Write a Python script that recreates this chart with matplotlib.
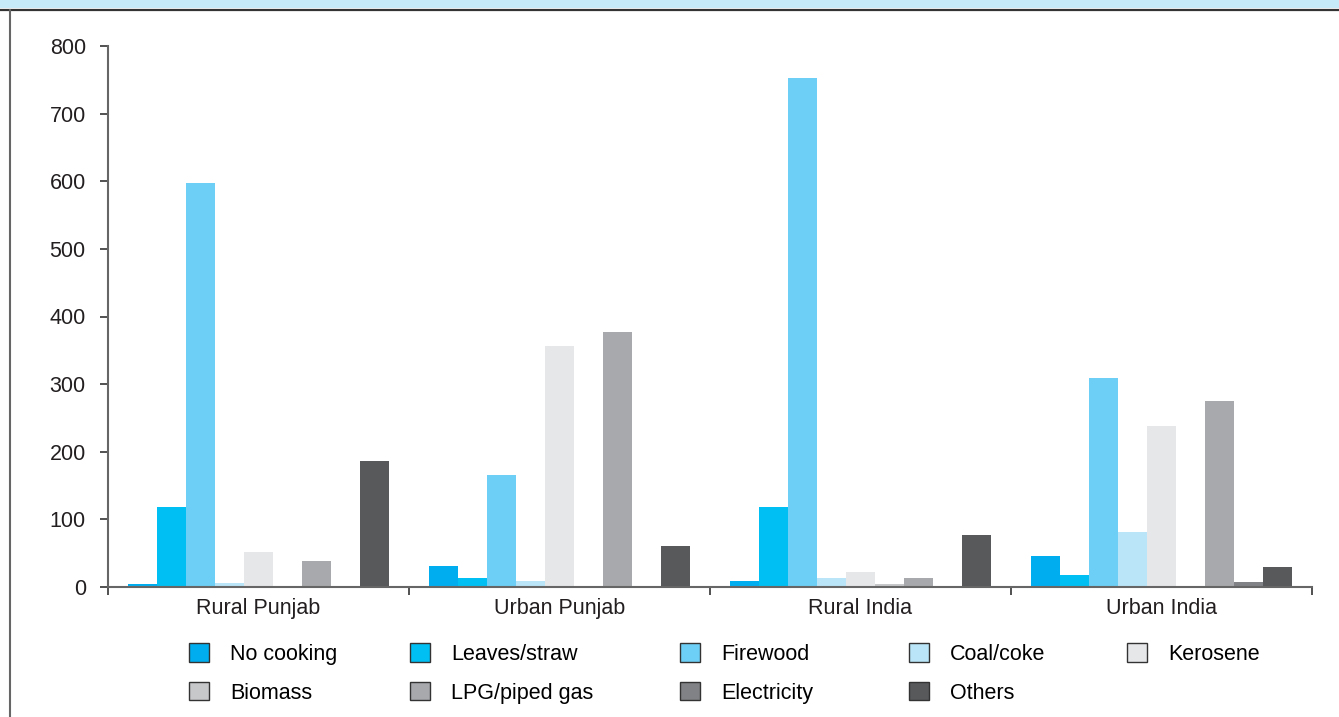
import numpy as np
import matplotlib
matplotlib.use("Agg")
import matplotlib.pyplot as plt
from matplotlib.patches import Patch, Rectangle
from matplotlib.lines import Line2D

plt.rcParams['font.family'] = ['Liberation Sans', 'DejaVu Sans']

regions = ['Rural Punjab', 'Urban Punjab', 'Rural India', 'Urban India']
fuels = ['No cooking', 'Leaves/straw', 'Firewood', 'Coal/coke', 'Kerosene',
         'Biomass', 'LPG/piped gas', 'Electricity', 'Others']
colors = ['#00aeef', '#00bff3', '#6dcff6', '#bae5f8', '#e6e7e8',
          '#c7c8ca', '#a7a9ac', '#808285', '#58595b']

no_cooking = [4, 31, 9, 46]
leaves_straw = [118, 13, 118, 18]
firewood = [597, 166, 753, 309]
coal_coke = [6, 9, 13, 81]
kerosene = [52, 356, 22, 238]
biomass = [0, 0, 4, 0]
lpg = [38, 377, 13, 275]
electricity = [0, 0, 0, 7]
others = [186, 61, 77, 30]

series = [no_cooking, leaves_straw, firewood, coal_coke, kerosene,
          biomass, lpg, electricity, others]

W, H = 1339, 717
fig = plt.figure(figsize=(W / 100, H / 100), dpi=100)
ax = fig.add_axes([108 / W, 1 - 587 / H, 1204 / W, 541 / H])

x = np.arange(len(regions))
w = 0.0963
for i, vals in enumerate(series):
    ax.bar(x - 4 * w + i * w, vals, width=w, color=colors[i], linewidth=0,
           label=fuels[i], zorder=2)

fs = 15.5
ax.set_xlim(-0.5, 3.5)
ax.set_ylim(0, 800)
ax.set_yticks(range(0, 801, 100))
ax.set_xticks(x)
ax.set_xticklabels(regions)
ax.set_xticks(np.arange(-0.5, 4, 1), minor=True)
ax.tick_params(axis='x', which='major', length=0, labelsize=fs, pad=8,
               labelcolor='#231f20')
ax.tick_params(axis='x', which='minor', length=6, width=1.2, color='#333333')
ax.tick_params(axis='y', length=6, width=1.2, color='#333333', labelsize=fs,
               labelcolor='#231f20', pad=10)
for s in ['top', 'right']:
    ax.spines[s].set_visible(False)
for s in ['left', 'bottom']:
    ax.spines[s].set_color('#666666')
    ax.spines[s].set_linewidth(1.5)
ax.spines['bottom'].set_zorder(3)

# legend: 5 columns placed one by one, 2 rows
handles = [Patch(facecolor=c, edgecolor='#333333', linewidth=1.0) for c in colors]
col_x = [189, 410, 680, 909, 1127]
for j, cx in enumerate(col_x):
    idx = [j] if j + 5 >= len(fuels) else [j, j + 5]
    fig.legend([handles[i] for i in idx], [fuels[i] for i in idx],
               loc='upper left', bbox_to_anchor=(cx / W, 1 - 643 / H),
               frameon=False, fontsize=fs, handlelength=0.95, handleheight=0.95,
               handletextpad=0.95, labelspacing=0.8,
               borderaxespad=0, borderpad=0)

# frame decoration
fig.add_artist(Rectangle((0, 1 - 8 / H), 1, 8 / H, transform=fig.transFigure,
                         facecolor='#c7eaf9', edgecolor='none'))
fig.add_artist(Line2D([0, 1], [1 - 9.5 / H] * 2, transform=fig.transFigure,
                      color='#333333', linewidth=1.6))
fig.add_artist(Line2D([9.5 / W] * 2, [0, 1 - 9.5 / H], transform=fig.transFigure,
                      color='#666666', linewidth=1.5))

fig.savefig('out.png', dpi=100)
